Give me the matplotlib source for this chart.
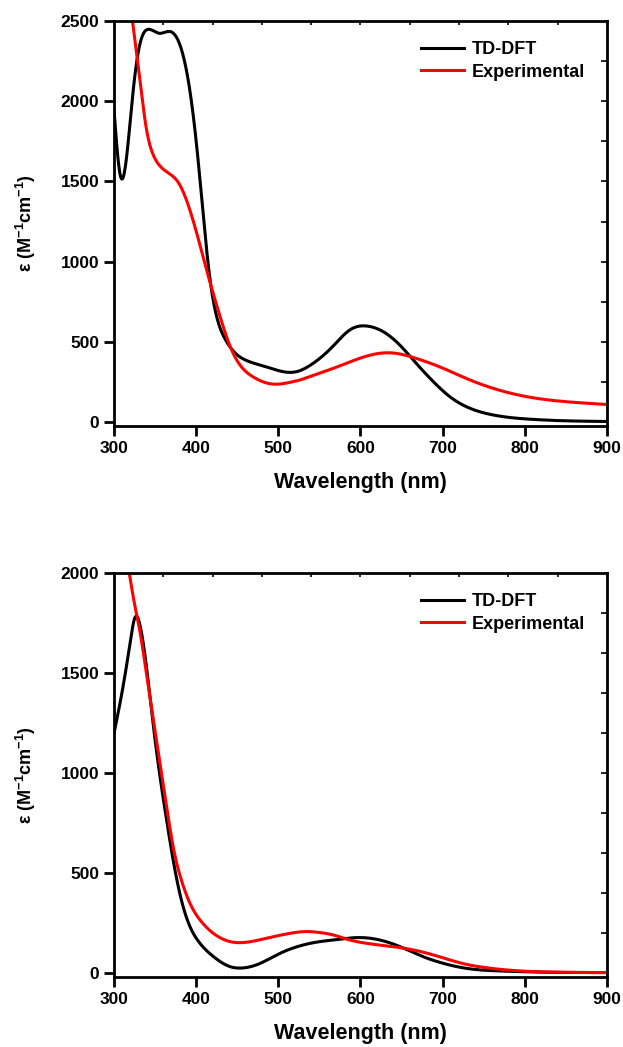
import numpy as np
import matplotlib
matplotlib.use('Agg')
import matplotlib.pyplot as plt

plt.rcParams['font.family'] = ['Liberation Sans', 'DejaVu Sans']
plt.rcParams['font.weight'] = 'bold'
plt.rcParams['mathtext.fontset'] = 'custom'
plt.rcParams['mathtext.rm'] = 'Liberation Sans:bold'
plt.rcParams['mathtext.it'] = 'Liberation Sans:bold'
plt.rcParams['mathtext.bf'] = 'Liberation Sans:bold'

# top panel, TD-DFT
wl_a_dft = [300, 308, 323, 330, 342, 355, 369, 381, 391, 399, 407, 415, 425, 436, 448, 460,
            485, 513, 526, 536, 550, 567, 587, 609, 628, 648, 668, 689, 709, 729, 750, 770,
            810, 851, 900]
eps_a_dft = [1945, 1530, 2049, 2319, 2448, 2423, 2433, 2340, 2111, 1800, 1384, 968, 657, 511,
             428, 387, 345, 310, 320, 345, 395, 475, 574, 598, 563, 480, 366, 251, 158, 96, 58,
             37, 17, 8, 4]
# top panel, experimental
wl_a_exp = [321, 327, 333, 339, 347, 355, 367, 379, 391, 403, 415, 428, 440, 452, 469, 485,
            501, 517, 526, 538, 567, 608, 636, 668, 701, 729, 762, 803, 851, 900]
eps_a_exp = [2560, 2319, 2070, 1841, 1675, 1602, 1550, 1488, 1343, 1135, 906, 677, 490, 366,
             283, 245, 237, 251, 262, 283, 335, 412, 432, 397, 335, 272, 210, 158, 127, 110]

# bottom panel, TD-DFT
wl_b_dft = [300, 311, 319.5, 325.6, 332, 340, 348, 356, 364, 372, 382, 392.5, 404.7, 421, 441,
            457, 478, 498, 526, 551, 567, 600, 620, 648, 676, 701, 729, 770, 810, 900]
eps_b_dft = [1198, 1432, 1648, 1778, 1732, 1515, 1232, 982, 765, 565, 365, 232, 148, 82, 32,
             25, 48, 90, 135, 157, 165, 177, 168, 132, 82, 48, 23, 10, 5, 2]
# bottom panel, experimental
wl_b_exp = [317, 325.6, 332, 340, 348, 356, 364, 372, 382, 392.5, 404.7, 421, 441, 457, 485,
            510, 534, 551, 567, 587, 608, 628, 648, 668, 689, 709, 729, 750, 778, 810, 851, 900]
eps_b_exp = [2040, 1832, 1698, 1482, 1265, 1048, 832, 632, 465, 348, 265, 198, 157, 152, 173,
             195, 207, 202, 190, 165, 148, 137, 127, 112, 90, 65, 43, 28, 15, 7, 3, 2]

x_ticks = [300, 400, 500, 600, 700, 800, 900]


def spline(x, y):
    # natural cubic spline through the read-off points
    x = np.asarray(x, float)
    y = np.asarray(y, float)
    n = len(x)
    h = np.diff(x)
    A = np.zeros((n, n))
    b = np.zeros(n)
    A[0, 0] = A[-1, -1] = 1
    for i in range(1, n - 1):
        A[i, i - 1] = h[i - 1]
        A[i, i] = 2 * (h[i - 1] + h[i])
        A[i, i + 1] = h[i]
        b[i] = 6 * ((y[i + 1] - y[i]) / h[i] - (y[i] - y[i - 1]) / h[i - 1])
    M = np.linalg.solve(A, b)
    xs = np.linspace(x[0], x[-1], 1500)
    i = np.clip(np.searchsorted(x, xs) - 1, 0, n - 2)
    a = x[i + 1] - xs
    c = xs - x[i]
    ys = (M[i] * a**3 + M[i + 1] * c**3) / (6 * h[i]) \
        + (y[i] / h[i] - M[i] * h[i] / 6) * a + (y[i + 1] / h[i] - M[i + 1] * h[i] / 6) * c
    return xs, ys


fig = plt.figure(figsize=(6.23, 10.47), dpi=100)
ax1 = fig.add_axes([0.183, 0.593, 0.791, 0.387])
ax2 = fig.add_axes([0.183, 0.0669, 0.791, 0.3858])


def style(ax, dft, exp, ymax, ystep, rstep):
    ax.plot(*spline(*dft), color='black', lw=2.2, label='TD-DFT')
    ax.plot(*spline(*exp), color='red', lw=2.2, label='Experimental')
    ax.set_xlim(300, 900)
    ax.set_ylim(-ymax * 0.01, ymax)
    ax.set_xticks(x_ticks)
    ax.set_yticks(np.arange(0, ymax + 1, ystep))
    for s in ax.spines.values():
        s.set_linewidth(2)
    ax.tick_params(axis='both', direction='out', length=7, width=2, labelsize=12.5)
    ax.set_xlabel('Wavelength (nm)', fontsize=15.5, fontweight='bold', labelpad=12)
    ax.set_ylabel(r'ε (M$^{-1}$cm$^{-1}$)', fontsize=13, fontweight='bold', labelpad=16)
    sy = ax.secondary_yaxis('right')
    sy.set_yticks(np.arange(rstep, ymax, rstep))
    sy.tick_params(direction='in', length=4, width=1.2, labelright=False)
    sx = ax.secondary_xaxis('top')
    sx.set_xticks(np.arange(360, 900, 60))
    sx.tick_params(direction='in', length=3, width=1.2, labeltop=False)
    ax.legend(loc='upper right', bbox_to_anchor=(0.988, 0.99), frameon=False, fontsize=13,
              handlelength=2.4, handletextpad=0.4, labelspacing=0.3)


style(ax1, (wl_a_dft, eps_a_dft), (wl_a_exp, eps_a_exp), 2500, 500, 250)
style(ax2, (wl_b_dft, eps_b_dft), (wl_b_exp, eps_b_exp), 2000, 500, 200)

fig.savefig('out.png', dpi=100)
